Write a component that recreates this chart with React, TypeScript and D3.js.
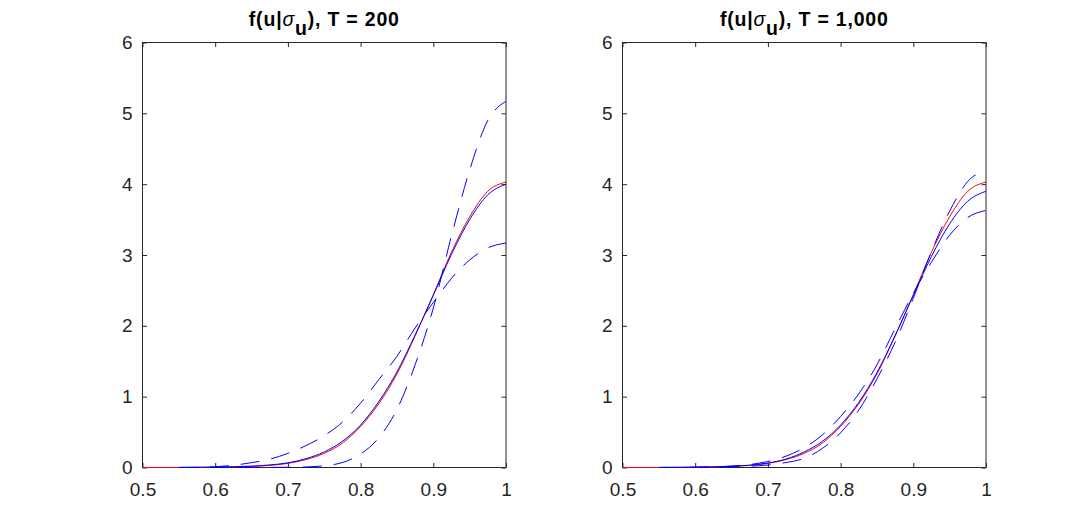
import React, { useEffect, useRef } from 'react';
import * as d3 from 'd3';

// grid of u values on which the densities were read
const uGrid = [
  0.5, 0.525, 0.55, 0.575, 0.6, 0.625, 0.65, 0.675, 0.7, 0.725, 0.75, 0.775, 0.8, 0.825, 0.85, 0.875, 0.9,
  0.925, 0.95, 0.975, 1.0,
];

// true density (red), same in both panels
const trueDensity = [
  0, 0, 0.001, 0.002, 0.004, 0.008, 0.015, 0.03, 0.058, 0.112, 0.2, 0.345, 0.58, 0.9, 1.32, 1.86, 2.44, 3.04,
  3.54, 3.9, 4.03,
];

// T = 200
const meanT200 = [
  null, null, 0.001, 0.003, 0.006, 0.011, 0.02, 0.036, 0.066, 0.125, 0.22, 0.37, 0.6, 0.93, 1.35, 1.87, 2.43,
  3.01, 3.5, 3.85, 4.0,
];
const highT200 = [
  null, null, 0, 0, 0, 0, 0, 0.001, 0.003, 0.008, 0.025, 0.07, 0.19, 0.42, 0.82, 1.45, 2.25, 3.27, 4.2, 4.9, 5.17,
];
const lowT200 = [
  null, null, 0, 0.002, 0.01, 0.032, 0.068, 0.117, 0.2, 0.31, 0.45, 0.64, 0.91, 1.24, 1.57, 1.97, 2.33, 2.67,
  2.93, 3.1, 3.17,
];

// T = 1,000
const meanT1000 = [
  null, null, 0.001, 0.002, 0.005, 0.01, 0.018, 0.033, 0.063, 0.12, 0.22, 0.37, 0.6, 0.92, 1.34, 1.86, 2.43,
  2.98, 3.44, 3.76, 3.9,
];
const highT1000 = [
  null, null, 0, 0, 0.001, 0.003, 0.008, 0.018, 0.035, 0.07, 0.13, 0.27, 0.49, 0.81, 1.25, 1.77, 2.39, 3.05,
  3.62, 4.04, 4.19,
];
const lowT1000 = [
  null, null, 0, 0.001, 0.003, 0.008, 0.02, 0.042, 0.085, 0.16, 0.28, 0.46, 0.72, 1.04, 1.45, 1.96, 2.46, 2.9,
  3.28, 3.53, 3.63,
];

const xTicks = [0.5, 0.6, 0.7, 0.8, 0.9, 1];
const yTicks = [0, 1, 2, 3, 4, 5, 6];

const panels = [
  { label: '200', mean: meanT200, high: highT200, low: lowT200, left: 142.5, right: 506 },
  { label: '1,000', mean: meanT1000, high: highT1000, low: lowT1000, left: 622.5, right: 986 },
];

const W = 1090;
const H = 526;
const TOP = 42.5;
const BOTTOM = 467.5;
const AXIS = '#262626';
const FONT = '"Liberation Sans", Arial, Helvetica, sans-serif';

export default function App() {
  const svgRef = useRef<SVGSVGElement | null>(null);

  useEffect(() => {
    if (!svgRef.current) return;
    const svg = d3.select(svgRef.current);
    svg.selectAll('*').remove();

    svg.append('rect').attr('width', W).attr('height', H).attr('fill', '#fff');

    panels.forEach((p, i) => {
      const x = d3.scaleLinear().domain([0.5, 1]).range([p.left, p.right]);
      const y = d3.scaleLinear().domain([0, 6]).range([BOTTOM, TOP]);
      const g = svg.append('g');

      // axes, MATLAB style: ticks inside, box on
      const xAxis = g
        .append('g')
        .attr('transform', `translate(0,${BOTTOM})`)
        .call(d3.axisBottom(x).tickValues(xTicks).tickFormat(d3.format('')).tickSizeInner(-4.5).tickSizeOuter(0).tickPadding(15));
      const yAxis = g
        .append('g')
        .attr('transform', `translate(${p.left},0)`)
        .call(d3.axisLeft(y).tickValues(yTicks).tickFormat(d3.format('')).tickSizeInner(-4.5).tickSizeOuter(0).tickPadding(10));
      g.append('g')
        .attr('transform', `translate(0,${TOP})`)
        .call(d3.axisTop(x).tickValues(xTicks).tickFormat(() => '').tickSizeInner(-4.5).tickSizeOuter(0));
      g.append('g')
        .attr('transform', `translate(${p.right},0)`)
        .call(d3.axisRight(y).tickValues(yTicks).tickFormat(() => '').tickSizeInner(-4.5).tickSizeOuter(0));

      g.selectAll('.domain').remove();
      g.selectAll('.tick line').attr('stroke', AXIS);
      [xAxis, yAxis].forEach((a) =>
        a.selectAll('.tick text').attr('fill', AXIS).style('font-family', FONT).style('font-size', '19px')
      );

      g.append('rect')
        .attr('x', p.left)
        .attr('y', TOP)
        .attr('width', p.right - p.left)
        .attr('height', BOTTOM - TOP)
        .attr('fill', 'none')
        .attr('stroke', AXIS)
        .attr('stroke-width', 1);

      // curves, clipped to the plot box
      const clipId = `clip-${i}`;
      svg
        .append('clipPath')
        .attr('id', clipId)
        .append('rect')
        .attr('x', p.left)
        .attr('y', TOP)
        .attr('width', p.right - p.left)
        .attr('height', BOTTOM - TOP + 0.5);

      const line = d3
        .line<number | null>()
        .defined((d) => d !== null)
        .x((_, j) => x(uGrid[j]))
        .y((d) => y(d as number))
        .curve(d3.curveMonotoneX);

      const curves = g.append('g').attr('clip-path', `url(#${clipId})`);
      curves.append('path').attr('d', line(trueDensity)).attr('fill', 'none').attr('stroke', '#ff0000').attr('stroke-width', 1);
      curves.append('path').attr('d', line(p.mean)).attr('fill', 'none').attr('stroke', '#0000ff').attr('stroke-width', 1);
      [p.high, p.low].forEach((s) => {
        curves
          .append('path')
          .attr('d', line(s))
          .attr('fill', 'none')
          .attr('stroke', '#0000ff')
          .attr('stroke-width', 1)
          .attr('stroke-dasharray', '19 12');
      });

      const title = g
        .append('text')
        .attr('x', (p.left + p.right) / 2)
        .attr('y', 26)
        .attr('text-anchor', 'middle')
        .attr('fill', '#000')
        .style('font-family', FONT)
        .style('font-size', '19.5px')
        .style('font-weight', 'bold')
        .style('letter-spacing', '0.8px');
      title.append('tspan').text('f(u|');
      title.append('tspan').style('font-weight', 'normal').style('font-style', 'italic').text('σ');
      title.append('tspan').attr('dy', 9).text('u');
      title.append('tspan').attr('dy', -9).text(`), T = ${p.label}`);
    });
  }, []);

  return (
    <svg
      ref={svgRef}
      width={W}
      height={H}
      style={{ position: 'absolute', left: 0, top: 0, display: 'block' }}
    />
  );
}
